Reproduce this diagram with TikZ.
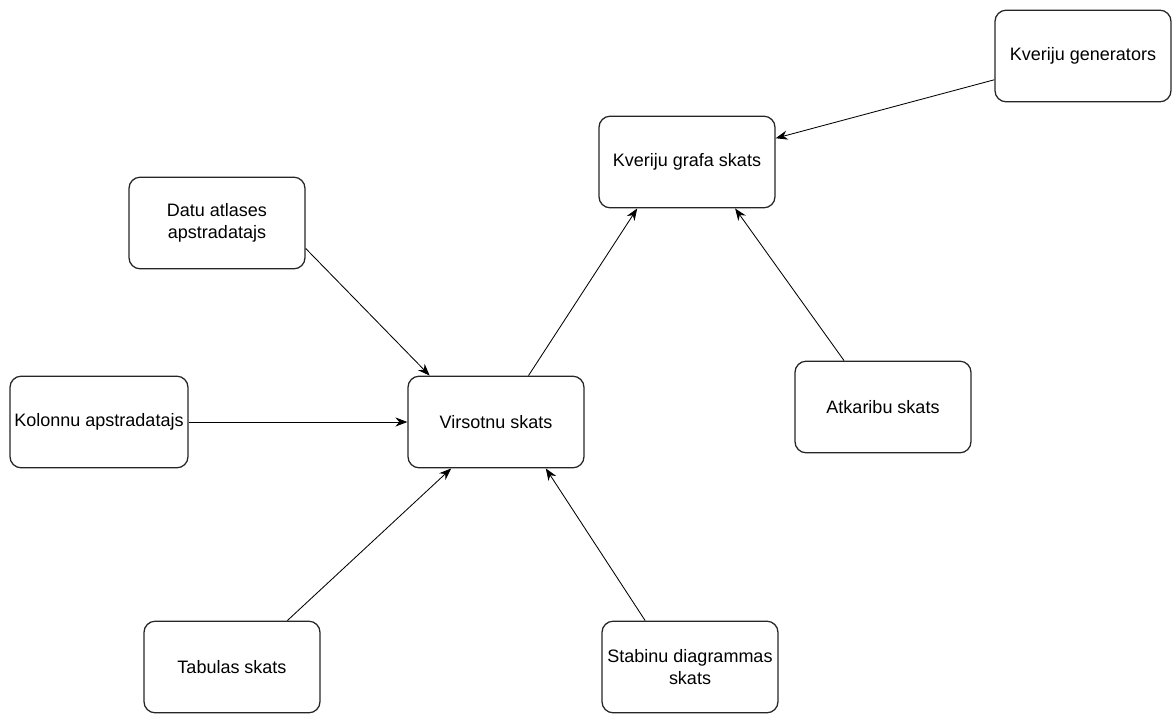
\documentclass[tikz,border=0pt]{standalone}
\usepackage{fontspec}
\setmainfont{Liberation Sans}
\usetikzlibrary{arrows.meta,positioning}
\tikzstyle{bloks} = [draw=black!85, line width=0.9pt, rectangle, rounded corners=8pt, minimum width=4.4cm, minimum height=2.29cm, inner sep=2pt, align=center, font=\fontsize{12.8}{15.8}\selectfont]
\tikzstyle{bulta} = [draw=black, line width=0.6pt, -{Stealth[length=8.5pt,width=6.5pt]}]

\begin{document}
\begin{tikzpicture}[x=0.025cm, y=-0.025cm]
	\useasboundingbox (0,0) rectangle (1173,713);
	\node [bloks] (generators) at (1083,56) {Kveriju generators};
	\node [bloks] (grafs) at (687,162) {Kveriju grafa skats};
	\node [bloks] (atlase) at (217,223) {Datu atlases\\apstradatajs};
	\node [bloks, minimum width=4.45cm] (kolonnas) at (99,422) {Kolonnu apstradatajs};
	\node [bloks] (virsotnes) at (496,422) {Virsotnu skats};
	\node [bloks] (atkaribas) at (883,407) {Atkaribu skats};
	\node [bloks] (tabula) at (232,667) {Tabulas skats};
	\node [bloks] (stabini) at (690,667) {Stabinu diagrammas\\skats};
	\draw [bulta] (generators.-165) -- (grafs.15);
	\draw [bulta] (atlase.-16) -- (virsotnes.145);
	\draw [bulta] (kolonnas.east) -- (virsotnes.west);
	\draw [bulta] (tabula.40) -- (virsotnes.-134);
	\draw [bulta] (stabini.134) -- (virsotnes.-43);
	\draw [bulta] (virsotnes.55) -- (grafs.-137);
	\draw [bulta] (atkaribas.130) -- (grafs.-44);
\end{tikzpicture}
\end{document}
